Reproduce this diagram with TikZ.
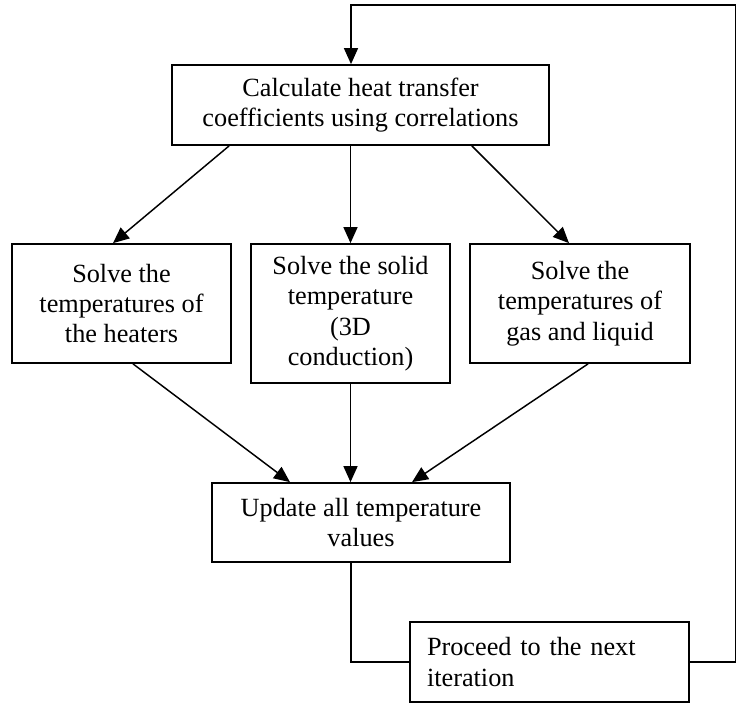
\documentclass[tikz,border=0pt]{standalone}
\usepackage{fontspec}
\setmainfont{Liberation Serif}
\usetikzlibrary{arrows.meta,calc}

\begin{document}
\begin{tikzpicture}[x=0.75pt,y=0.75pt,yscale=-1,xscale=1,
  stepbox/.style={draw,line width=1.3pt,inner sep=2pt,align=center,font=\fontsize{19.7}{22.8}\selectfont},
  flow/.style={line width=1.1pt,-{Triangle[length=12pt,width=10.5pt]}},
  plainline/.style={line width=1.1pt}]
\useasboundingbox (0,0) rectangle (737,705);

% Text Node
\node [stepbox,minimum width=282.75pt,minimum height=60pt] (calc) at (360.5,105) {Calculate heat transfer\\coefficients using correlations};
% Text Node
\node [stepbox,minimum width=164.25pt,minimum height=89.25pt] (heaters) at (121.5,303.5) {Solve the\\temperatures of\\the heaters};
% Text Node
\node [stepbox,minimum width=149.25pt,minimum height=104.25pt] (solid) at (350.5,313.5) {Solve the solid\\temperature\\(3D\\conduction)};
% Text Node
\node [stepbox,minimum width=165pt,minimum height=89.25pt] (gasliq) at (580,303.5) {Solve the\\temperatures of\\gas and liquid};
% Text Node
\node [stepbox,minimum width=223.5pt,minimum height=59.25pt] (update) at (361,522.5) {Update all temperature\\values};
% Text Node
\node [stepbox,align=left,text width=183.75pt,minimum width=209.25pt,minimum height=60pt] (proceed) at (549.5,662) {Proceed to the next\\iteration};

%Straight Lines
\draw [flow] ($(calc.south west)+(58,0)$) -- ($(heaters.north)+(-8.5,0)$);
\draw [flow] (solid.north |- calc.south) -- (solid.north);
\draw [flow] ($(calc.south east)+(-78,0)$) -- ($(gasliq.north)+(-11,0)$);

%Straight Lines
\draw [flow] ($(heaters.south)+(11.5,0)$) -- ($(update.north)+(-71,0)$);
\draw [flow] (solid.south) -- (solid.south |- update.north);
\draw [flow] ($(gasliq.south)+(8,0)$) -- ($(update.north)+(51,0)$);

%Straight Lines
\draw [plainline] ($(update.south)+(-10,0)$) |- (proceed.west);

% loop back to the top
\coordinate (loopcorner) at (735.5,5);
\draw [flow] (proceed.east) -| (loopcorner) -| ($(calc.north)+(-9.5,0)$);

\end{tikzpicture}
\end{document}
